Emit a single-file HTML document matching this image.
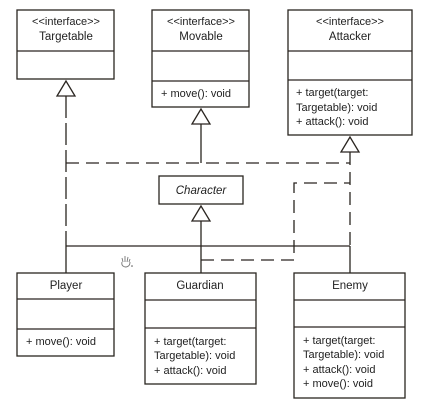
<!DOCTYPE html>
<html><head><meta charset="utf-8"><style>
html,body{margin:0;padding:0;background:#fff;}
svg{display:block;}
text{font-family:"Liberation Sans",sans-serif;fill:#222;}
</style></head><body>
<svg width="433" height="410" viewBox="0 0 433 410" xmlns="http://www.w3.org/2000/svg">
<g fill="none" stroke="#2a2520" stroke-width="1.3">
<rect x="17" y="10" width="97" height="69"/><line x1="17" y1="51" x2="114" y2="51"/>
<rect x="152" y="10" width="97" height="97"/><line x1="152" y1="51" x2="249" y2="51"/><line x1="152" y1="81" x2="249" y2="81"/>
<rect x="288" y="10" width="124" height="125"/><line x1="288" y1="51" x2="412" y2="51"/><line x1="288" y1="80" x2="412" y2="80"/>
<rect x="159" y="176" width="84" height="28"/>
<rect x="17" y="273" width="97" height="83"/><line x1="17" y1="299" x2="114" y2="299"/><line x1="17" y1="329" x2="114" y2="329"/>
<rect x="145" y="273" width="111" height="111"/><line x1="145" y1="300" x2="256" y2="300"/><line x1="145" y1="328" x2="256" y2="328"/>
<rect x="294" y="273" width="111" height="125"/><line x1="294" y1="300" x2="405" y2="300"/><line x1="294" y1="327" x2="405" y2="327"/>
<polygon points="66,81 57,96 75,96" fill="#fff"/>
<polygon points="201,109 192,124 210,124" fill="#fff"/>
<polygon points="350,137 341,152 359,152" fill="#fff"/>
<polygon points="201,206 192,221 210,221" fill="#fff"/>
<line x1="201" y1="124" x2="201" y2="163"/>
<line x1="201" y1="221" x2="201" y2="273"/>
<line x1="66" y1="246" x2="350" y2="246"/>
<line x1="66" y1="240" x2="66" y2="273"/>
<line x1="350" y1="246" x2="350" y2="273"/>
<line x1="66" y1="96" x2="66" y2="240" stroke-dasharray="22,5"/>
<line x1="66" y1="163" x2="350" y2="163" stroke-dasharray="13,7"/>
<line x1="350" y1="152" x2="350" y2="246" stroke-dasharray="13,7"/>
<polyline points="201,260 294,260 294,183 350,183" stroke-dasharray="13,7"/>
</g>
<g font-size="11" text-anchor="middle">
<text x="66" y="25">&lt;&lt;interface&gt;&gt;</text><text x="66" y="40" font-size="11.5">Targetable</text>
<text x="201" y="25">&lt;&lt;interface&gt;&gt;</text><text x="201" y="40" font-size="11.5">Movable</text>
<text x="350" y="25">&lt;&lt;interface&gt;&gt;</text><text x="350" y="40" font-size="11.5">Attacker</text>
<text x="201" y="194" font-style="italic" font-size="11.5">Character</text>
<text x="66" y="289" font-size="11.5">Player</text>
<text x="200" y="289" font-size="11.5">Guardian</text>
<text x="350" y="289" font-size="11.5">Enemy</text>
</g>
<g font-size="11">
<text x="161" y="97">+ move(): void</text>
<text x="296" y="96">+ target(target:</text>
<text x="296" y="111">Targetable): void</text>
<text x="296" y="125">+ attack(): void</text>
<text x="26" y="345">+ move(): void</text>
<text x="154" y="345">+ target(target:</text>
<text x="154" y="359">Targetable): void</text>
<text x="154" y="374">+ attack(): void</text>
<text x="303" y="344">+ target(target:</text>
<text x="303" y="358">Targetable): void</text>
<text x="303" y="373">+ attack(): void</text>
<text x="303" y="387">+ move(): void</text>
</g>
<g fill="none" stroke="#777" stroke-width="0.9">
<path d="M123,262 L122,258 M125,262 L125,256 M127,262 L128,257 M129,262 L130,259 M122,262 Q121,266 125,267 Q130,267 130,262"/>
</g>
<circle cx="132" cy="266" r="0.8" fill="#555"/>
</svg>
</body></html>
